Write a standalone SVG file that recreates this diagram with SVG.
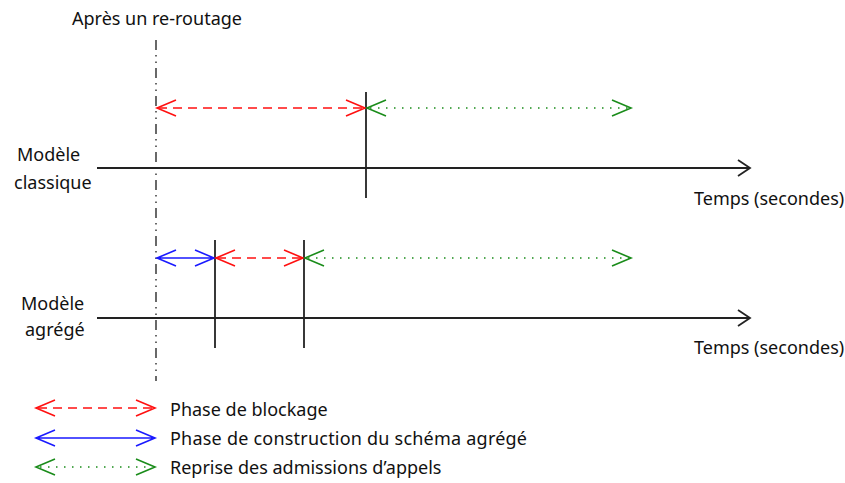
<svg xmlns="http://www.w3.org/2000/svg" width="845" height="483" viewBox="0 0 845 483">
<defs>
<style>
text{font-family:"Noto Sans","DejaVu Sans",sans-serif;font-size:18px;fill:#111}
.ax{stroke:#222;stroke-width:1.8;fill:none}
.red{stroke:#ff1010;stroke-width:1.6;fill:none}
.redd{stroke-dasharray:9 6}
.blue{stroke:#1a1aff;stroke-width:1.6;fill:none}
.green{stroke:#1a8c1a;stroke-width:1.6;fill:none}
.dot{stroke-dasharray:1.5 6.5}
.dd{stroke:#444;stroke-width:1.6;fill:none;stroke-dasharray:10 5 1.5 5 1.5 5}
</style>
</defs>
<rect width="845" height="483" fill="#fff"/>
<g id="title"><text x="72" y="25">Après un re-routage</text></g>
<g id="reroute-line"><line class="dd" x1="156" y1="40" x2="156" y2="381"/></g>
<g id="label-classique"><text x="17" y="161">Modèle</text><text x="14" y="189">classique</text></g>
<g id="label-agrege"><text x="21" y="310">Modèle</text><text x="25" y="336">agrégé</text></g>
<g id="temps1"><text x="694" y="205">Temps (secondes)</text></g>
<g id="temps2"><text x="694" y="354">Temps (secondes)</text></g>
<g id="legend-text">
<text x="170" y="416">Phase de blockage</text>
<text x="170" y="445" textLength="357">Phase de construction du schéma agrégé</text>
<text x="170" y="474">Reprise des admissions d’appels</text>
</g>
<g id="connectors">
<path class="ax" d="M97 168H750M738 160L750 168L738 176"/>
<path class="ax" d="M97 318H750M738 310L750 318L738 326"/>
<path class="ax" d="M366 92V198"/>
<path class="ax" d="M215 240V348"/>
<path class="ax" d="M304 240V348"/>
<path class="red redd" d="M158 108H364"/>
<path class="red" d="M176 100L157 108L176 116M346 100L365 108L346 116"/>
<path class="green dot" d="M370 108H630"/>
<path class="green" d="M386 100L367 108L386 116M612 100L631 108L612 116"/>
<path class="blue" d="M157 258H214M176 250L157 258L176 266M195 250L214 258L195 266"/>
<path class="red redd" d="M217 258H302"/>
<path class="red" d="M235 250L216 258L235 266M284 250L303 258L284 266"/>
<path class="green dot" d="M308 258H630"/>
<path class="green" d="M324 250L305 258L324 266M612 250L631 258L612 266"/>
<path class="red redd" d="M38 408H153"/>
<path class="red" d="M55 400L36 408L55 416M136 400L155 408L136 416"/>
<path class="blue" d="M36 438H155M55 430L36 438L55 446M136 430L155 438L136 446"/>
<path class="green dot" d="M40 467H152"/>
<path class="green" d="M55 459L36 467L55 475M136 459L155 467L136 475"/>
</g>
</svg>
